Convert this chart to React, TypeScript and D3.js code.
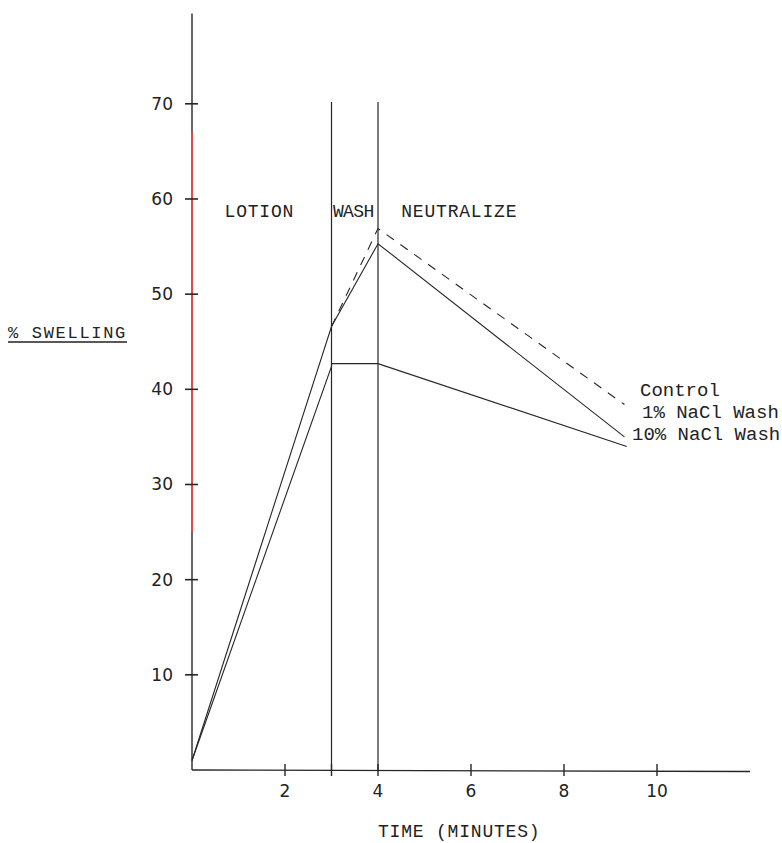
import * as d3 from "d3";

const W = 782;
const H = 843;

// readings: [minutes, % swelling]
const controlPoints: [number, number][] = [
  [0, 1],
  [3, 46.6],
  [4, 56.9],
  [9.3, 38.4],
];
const nacl1Points: [number, number][] = [
  [0, 1],
  [3, 46.6],
  [4, 55.3],
  [9.3, 35.0],
];
const nacl10Points: [number, number][] = [
  [0, 1],
  [3, 42.4],
  [3, 42.7],
  [4, 42.7],
  [9.35, 34.0],
];

const yTicks = [10, 20, 30, 40, 50, 60, 70];
const xTicks = [2, 4, 6, 8, 10];
const phaseBounds = [3, 4];
const phaseLabels = [
  { label: "LOTION", at: 0.7 },
  { label: "WASH", at: 3.03 },
  { label: "NEUTRALIZE", at: 4.5 },
];
const seriesLabels = ["Control", "1% NaCl Wash", "10% NaCl Wash"];

const x = d3.scaleLinear().domain([0, 12]).range([192, 750]);
const y = d3.scaleLinear().domain([0, 80]).range([770, 770 - 80 * 9.517]);

const line = d3
  .line<[number, number]>()
  .x((d) => x(d[0]))
  .y((d) => y(d[1]));

const INK = "#262626";
const mono = "'Liberation Mono', 'DejaVu Sans Mono', monospace";
const sans = "'DejaVu Sans', sans-serif";

export default function App() {
  return (
    <svg
      width={W}
      height={H}
      style={{ position: "absolute", left: 0, top: 0, background: "#fff" }}
    >
      {/* y axis, with the reddish tint of the scan on its middle part */}
      <line x1={x(0)} x2={x(0)} y1={y(0)} y2={y(79.5)} stroke={INK} strokeWidth={1.4} />
      <line x1={x(0)} x2={x(0)} y1={y(25)} y2={y(67)} stroke="#ec4a44" strokeWidth={1.8} />
      {yTicks.map((t) => (
        <g key={t}>
          <line x1={x(0) - 7} x2={x(0) + 6} y1={y(t)} y2={y(t)} stroke={INK} strokeWidth={1.6} />
          <text
            x={x(0) - 19}
            y={y(t) + 6}
            textAnchor="end"
            fontFamily={sans}
            fontSize={17}
            fill="#222"
          >
            {t}
          </text>
        </g>
      ))}
      <text x={8} y={338} fontFamily={mono} fontSize={17} letterSpacing={1.7} fill="#222">
        % SWELLING
      </text>
      <line x1={8} x2={127} y1={342} y2={342} stroke="#222" strokeWidth={1.3} />

      {/* x axis */}
      <line x1={x(0)} x2={x(12)} y1={y(0)} y2={y(0) + 1.5} stroke={INK} strokeWidth={1.4} />
      {[...xTicks, 3].map((t) => (
        <line key={t} x1={x(t)} x2={x(t)} y1={y(0) - 6} y2={y(0) + 6} stroke={INK} strokeWidth={1.4} />
      ))}
      {xTicks.map((t) => (
        <text
          key={t}
          x={x(t)}
          y={797}
          textAnchor="middle"
          fontFamily={sans}
          fontSize={17}
          fill="#222"
        >
          {t}
        </text>
      ))}
      <text x={378} y={837} fontFamily={mono} fontSize={18} letterSpacing={0.8} fill="#222">
        TIME (MINUTES)
      </text>

      {/* phase boundaries */}
      {phaseBounds.map((b) => (
        <line key={b} x1={x(b)} x2={x(b)} y1={y(0)} y2={y(70.2)} stroke={INK} strokeWidth={1.2} />
      ))}
      {phaseLabels.map((p) => (
        <text
          key={p.label}
          x={x(p.at)}
          y={217}
          fontFamily={mono}
          fontSize={18}
          letterSpacing={p.label === "WASH" ? -0.6 : 0.8}
          fill="#222"
        >
          {p.label}
        </text>
      ))}

      {/* series */}
      <path d={line(nacl10Points) ?? ""} fill="none" stroke={INK} strokeWidth={1.1} />
      <path d={line(nacl1Points) ?? ""} fill="none" stroke={INK} strokeWidth={1.1} />
      <path
        d={line(controlPoints.slice(1)) ?? ""}
        fill="none"
        stroke={INK}
        strokeWidth={1.1}
        strokeDasharray="9 8"
      />

      {seriesLabels.map((s, i) => (
        <text
          key={s}
          x={[640, 642, 632][i]}
          y={396 + i * 22}
          fontFamily={mono}
          fontSize={19}
          fill="#222"
        >
          {s}
        </text>
      ))}
    </svg>
  );
}
